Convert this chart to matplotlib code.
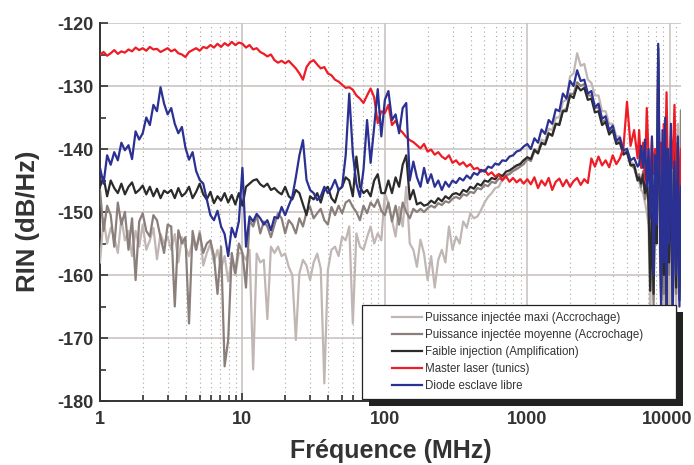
import matplotlib
matplotlib.use("Agg")
import matplotlib.pyplot as plt
import matplotlib.transforms as mtransforms
from matplotlib.patches import Rectangle
from matplotlib.ticker import FixedLocator, NullFormatter

# frequency grid (MHz): 40 points per decade up to ~6 GHz, then a finer tail
mant = [1.000, 1.059, 1.122, 1.189, 1.259, 1.334, 1.413, 1.496, 1.585, 1.679,
        1.778, 1.884, 1.995, 2.113, 2.239, 2.371, 2.512, 2.661, 2.818, 2.985,
        3.162, 3.350, 3.548, 3.758, 3.981, 4.217, 4.467, 4.732, 5.012, 5.309,
        5.623, 5.957, 6.310, 6.683, 7.079, 7.499, 7.943, 8.414, 8.913, 9.441]
freq_tail = [6100, 6300, 6500, 6700, 6900, 7100, 7300, 7500, 7700, 7900,
             8100, 8300, 8500, 8700, 8900, 9100, 9300, 9500, 9700, 9900,
             10200, 10500, 10800, 11100, 11400, 11700, 12000]
freq = [m * 10 ** d for d in range(4) for m in mant][:152] + freq_tail

# Puissance injectee maxi
maxi = [-158.0, -151.0, -155.0, -152.5, -154.0, -156.5, -151.0, -154.5, -153.0, -157.0,
        -153.0, -155.5, -152.0, -156.0, -154.5, -152.5, -157.5, -153.5, -155.0, -154.0,
        -156.0, -153.5, -158.0, -154.0, -155.5, -157.0, -154.5, -156.0, -153.0, -158.5,
        -156.5, -155.0, -158.0, -156.0, -159.0, -157.0, -161.0, -157.5, -160.0, -156.5,
        -156.6, -157.6, -156.0, -175.0, -156.6, -158.0, -157.6, -167.0, -155.5, -156.5,
        -155.5, -157.0, -156.6, -158.7, -160.0, -170.3, -159.7, -157.6, -158.5, -160.8,
        -158.0, -156.6, -159.0, -177.2, -159.2, -156.0, -155.5, -157.0, -153.9, -154.5,
        -152.3, -167.7, -153.4, -155.5, -156.0, -154.0, -152.3, -155.0, -153.4, -154.5,
        -147.0, -148.6, -151.3, -153.9, -149.2, -152.3, -146.0, -155.0, -156.0, -158.7,
        -154.4, -156.6, -160.8, -157.0, -162.0, -157.6, -156.0, -158.0, -152.3, -156.0,
        -153.9, -155.0, -151.5, -152.5, -150.2, -151.0, -150.7, -149.7, -148.5, -147.6,
        -147.0, -146.2, -146.0, -144.8, -144.4, -143.8, -143.3, -142.8, -142.3, -141.7,
        -141.5, -141.8, -140.0, -140.3, -138.5, -138.8, -136.8, -137.0, -135.0, -135.0,
        -132.5, -132.2, -128.5, -128.0, -124.8, -126.8, -126.5, -129.0, -129.5, -131.5,
        -131.5, -134.0, -134.0, -136.0, -136.0, -138.0, -138.0, -140.0, -140.0, -142.0,
        -142.5, -144.5,
        -145.0, -146.5, -147.0, -148.5, -150.0, -152.0, -166.0, -149.0, -164.0, -146.0,
        -150.0, -126.0, -155.0, -165.0, -143.0, -166.0, -141.0, -164.0, -145.0, -166.0,
        -139.0, -165.0, -143.0, -166.0, -136.0, -162.0, -133.8]

# Puissance injectee moyenne
moyenne = [-146.5, -153.0, -149.0, -150.5, -155.5, -148.5, -152.0, -150.0, -156.0, -151.0,
           -160.8, -151.5, -150.2, -153.0, -153.9, -150.5, -151.3, -154.0, -156.5, -152.0,
           -152.3, -165.0, -152.9, -155.0, -154.0, -167.7, -153.0, -156.0, -153.4, -156.5,
           -155.0, -154.5, -157.0, -163.0, -155.5, -174.5, -170.3, -156.5, -159.7, -155.0,
           -156.5, -162.0, -151.3, -152.3, -150.5, -153.4, -151.5, -152.3, -154.0, -152.0,
           -150.2, -151.0, -153.4, -151.3, -152.0, -153.4, -151.0, -152.3, -150.0, -149.2,
           -151.0, -150.2, -149.5, -151.3, -152.0, -149.2, -150.5, -149.0, -150.2, -148.5,
           -148.1, -149.2, -150.0, -151.3, -149.0, -150.2, -148.5, -149.2, -148.0, -149.8,
           -150.5, -148.5, -151.5, -149.0, -152.0, -148.5, -150.0, -151.0, -149.5, -150.0,
           -149.5, -150.0, -149.4, -149.0, -149.3, -148.6, -148.9, -148.3, -148.5, -147.9,
           -147.6, -147.9, -147.2, -147.4, -146.8, -147.0, -146.2, -146.4, -145.7, -145.9,
           -145.2, -145.4, -144.7, -144.8, -144.1, -144.0, -143.5, -143.2, -142.8, -142.4,
           -141.6, -141.9, -140.4, -140.6, -139.2, -139.2, -137.6, -137.8, -136.0, -136.0,
           -133.9, -133.6, -131.2, -131.3, -129.4, -130.0, -129.7, -131.5, -131.5, -133.5,
           -133.4, -135.7, -135.4, -137.3, -137.0, -139.0, -138.7, -140.5, -140.5, -142.5,
           -143.0, -145.0,
           -144.0, -146.0, -143.5, -148.0, -144.5, -150.0, -158.0, -146.0, -165.0, -144.0,
           -152.0, -125.5, -150.0, -162.0, -140.0, -163.0, -138.0, -165.0, -142.0, -160.0,
           -137.0, -165.0, -141.0, -163.0, -139.0, -160.0, -134.0]

# Faible injection
faible = [-146.0, -144.5, -147.5, -145.0, -146.2, -147.0, -145.5, -147.2, -146.0, -145.3,
          -147.0, -146.5, -145.8, -147.2, -146.0, -147.5, -146.3, -147.8, -146.6, -147.0,
          -146.5, -147.8, -146.2, -147.5, -147.0, -146.0, -147.8, -146.8, -145.5, -147.2,
          -148.0, -146.8, -148.6, -147.5, -148.2, -147.0, -148.5, -147.3, -148.8, -147.0,
          -149.0, -146.0, -145.5, -145.0, -144.8, -145.6, -146.0, -145.5, -146.5, -146.2,
          -146.8, -147.2, -146.0, -147.5, -148.0, -146.5, -147.0, -148.8, -150.5, -147.5,
          -148.0, -147.0, -148.5, -146.5, -146.0, -147.8, -148.5, -146.5, -146.0, -144.5,
          -145.0, -147.5, -141.2, -146.0, -147.0, -146.5, -147.5, -145.0, -144.0, -147.0,
          -147.0, -145.0, -147.0, -144.5, -146.0, -142.5, -141.0, -148.0, -146.5, -148.8,
          -148.5, -149.0, -148.8, -148.2, -148.6, -147.8, -148.3, -147.5, -147.9, -147.2,
          -147.0, -147.3, -146.5, -146.8, -146.0, -146.3, -145.5, -145.8, -145.0, -145.2,
          -144.6, -144.8, -144.0, -144.3, -143.6, -143.4, -143.0, -142.6, -142.4, -141.8,
          -141.3, -141.6, -140.1, -140.7, -139.0, -139.3, -137.5, -137.9, -136.0, -136.2,
          -134.0, -134.0, -131.5, -131.9, -130.0, -130.7, -130.3, -132.2, -132.0, -134.2,
          -134.0, -136.2, -135.7, -137.7, -137.0, -139.2, -139.0, -140.9, -140.5, -142.6,
          -142.5, -145.0,
          -144.5, -145.5, -144.0, -147.0, -145.5, -148.5, -162.5, -150.0, -163.0, -147.0,
          -155.0, -124.0, -148.0, -164.0, -142.0, -160.0, -145.0, -166.0, -140.0, -158.0,
          -143.0, -166.0, -139.0, -162.0, -141.0, -164.0, -145.0]

# Master laser (tunics)
master = [-125.0, -124.6, -125.2, -124.8, -124.3, -124.9, -124.5, -124.7, -124.2, -124.5,
          -123.9, -124.3, -124.0, -124.4, -123.8, -124.2, -124.1, -124.6, -124.3, -124.0,
          -124.5, -124.2, -124.8, -125.0, -125.4, -124.6, -124.3, -124.0, -124.4, -123.8,
          -124.0, -123.5, -123.9, -123.3, -123.8, -123.2, -123.6, -123.0, -123.5, -123.1,
          -123.3, -123.9, -123.5, -124.2, -124.0, -124.6, -124.9, -125.3, -125.0, -125.9,
          -126.3, -126.0, -126.4, -126.0, -126.6, -127.2, -128.0, -129.0, -127.0, -126.2,
          -125.9, -126.6, -127.2, -127.0, -128.0, -128.3, -129.0, -129.3, -129.8, -130.3,
          -130.2, -130.6, -131.5, -132.0, -132.7, -131.5, -130.4, -131.8, -135.9, -134.0,
          -134.3, -133.0, -136.2, -135.5, -136.8, -137.4, -138.1, -138.6, -138.9, -139.4,
          -139.9, -139.2, -140.4, -140.1, -140.9, -140.5, -141.2, -141.6, -141.0, -142.2,
          -141.8, -142.5, -142.1, -142.8, -142.4, -143.2, -143.0, -143.6, -143.3, -144.1,
          -143.7, -144.4, -144.0, -145.0, -144.3, -145.2, -144.6, -145.3, -144.8, -145.5,
          -144.8, -145.6, -144.5, -146.2, -145.0, -145.8, -144.6, -146.5, -145.2, -144.7,
          -145.9, -144.9, -146.0, -145.1, -144.6, -145.7, -144.8, -145.4, -141.5, -142.8,
          -141.2, -142.6, -141.8, -142.9, -141.0, -142.4, -141.5, -139.8, -132.5, -139.5,
          -137.0, -141.5,
          -137.0, -143.0, -139.0, -145.0, -133.5, -141.0, -146.0, -138.5, -144.0, -140.0,
          -146.5, -137.0, -143.0, -139.0, -147.0, -136.0, -142.0, -131.0, -144.0, -146.0,
          -138.0, -143.0, -133.0, -145.0, -139.0, -147.0, -140.0]

# Diode esclave libre
libre = [-143.0, -145.5, -141.0, -142.5, -140.5, -141.8, -139.0, -140.2, -139.4, -141.6,
         -137.2, -138.5, -137.5, -135.0, -136.2, -133.0, -134.0, -130.2, -132.8, -134.5,
         -133.5, -136.0, -137.5, -136.5, -139.8, -141.7, -140.5, -143.5, -144.9, -145.5,
         -148.0, -150.5, -151.3, -149.8, -152.3, -153.5, -157.0, -152.5, -154.0, -151.5,
         -143.0, -155.5, -150.7, -151.5, -150.3, -151.0, -152.0, -151.3, -152.9, -150.8,
         -151.0, -149.2, -150.5, -149.0, -147.6, -144.5, -141.0, -138.6, -144.9, -146.5,
         -147.0, -148.1, -147.5, -146.0, -147.0, -146.2, -144.9, -146.5, -146.0, -141.0,
         -131.2, -140.7, -145.5, -147.6, -143.3, -135.4, -142.2, -136.5, -130.5, -138.0,
         -132.2, -130.8, -135.4, -134.5, -137.5, -133.5, -132.7, -145.0, -142.0, -144.5,
         -146.0, -143.0, -145.4, -144.0, -146.0, -145.0, -146.5, -145.2, -146.0, -145.0,
         -145.4, -144.6, -145.0, -144.2, -144.7, -143.8, -144.1, -143.3, -143.6, -142.8,
         -143.0, -142.3, -142.5, -141.8, -141.9, -141.2, -141.0, -140.4, -140.2, -139.6,
         -139.2, -140.0, -138.3, -139.0, -136.9, -137.6, -135.4, -136.0, -133.7, -134.0,
         -131.2, -132.0, -129.2, -130.0, -127.5, -129.2, -129.0, -131.2, -130.8, -133.4,
         -132.8, -135.2, -134.8, -137.0, -136.3, -138.7, -138.2, -140.2, -140.0, -141.8,
         -141.4, -142.8,
         -142.5, -139.5, -143.0, -138.5, -146.0, -140.0, -151.0, -138.0, -160.0, -141.0,
         -152.0, -123.3, -145.0, -165.0, -137.0, -158.0, -135.0, -166.0, -140.0, -155.0,
         -136.0, -167.0, -142.0, -160.0, -138.0, -165.0, -146.0]

labels = ["Puissance injectée maxi (Accrochage)",
          "Puissance injectée moyenne (Accrochage)",
          "Faible injection (Amplification)",
          "Master laser (tunics)",
          "Diode esclave libre"]
colors = ["#c0b6b4", "#8b7f7c", "#2b2b2b", "#ee1c25", "#2b3192"]

plt.rcParams['font.family'] = ['Liberation Sans', 'DejaVu Sans']
plt.rcParams['axes.unicode_minus'] = False

fig = plt.figure(figsize=(6.94, 4.65), dpi=100)
ax = fig.add_axes([100 / 694, 1 - 401 / 465, 581 / 694, 378 / 465])

lines = []
for ys, c, lab in zip([maxi, moyenne, faible, master, libre], colors, labels):
    ln, = ax.plot(freq, ys, color=c, lw=1.6, label=lab, zorder=3)
    lines.append(ln)

ax.set_xscale('log')
ax.set_xlim(1, 12000)
ax.set_ylim(-180, -120)

ax.xaxis.set_major_locator(FixedLocator([1, 10, 100, 1000, 10000]))
ax.set_xticklabels(['1', '10', '100', '1000', '10000'])
minors = [m * 10 ** d for d in range(4) for m in range(2, 10)] + [11000]
ax.xaxis.set_minor_locator(FixedLocator(minors))
ax.xaxis.set_minor_formatter(NullFormatter())
ax.set_yticks(range(-180, -119, 10))
ax.set_yticks(range(-175, -120, 10), minor=True)

ax.grid(which='major', color='#cbc3c1', lw=1.2, zorder=1)
ax.grid(which='minor', axis='x', color='#a8a8a8', lw=0.8, linestyle=(0, (1, 3)), zorder=1)

for s in ['top', 'right']:
    ax.spines[s].set_visible(False)
for s in ['left', 'bottom']:
    ax.spines[s].set_color('#333333')
    ax.spines[s].set_linewidth(1.4)
ax.tick_params(which='both', direction='in', color='#333333', width=1.2)
ax.tick_params(which='major', length=6, labelsize=13, labelcolor='#333333')
ax.tick_params(axis='x', which='major', pad=7)
ax.tick_params(axis='y', which='major', pad=5)
ax.tick_params(which='minor', length=4)
for t in ax.get_xticklabels() + ax.get_yticklabels():
    t.set_fontweight('bold')
# nudge the last x label a bit left so it stays inside the figure
last = ax.get_xticklabels()[-1]
last.set_transform(last.get_transform()
                   + mtransforms.ScaledTranslation(-3 / 100, 0, fig.dpi_scale_trans))

ax.set_xlabel('Fréquence (MHz)', fontsize=18, fontweight='bold', color='#333333')
ax.set_ylabel('RIN (dB/Hz)', fontsize=18.5, fontweight='bold', color='#333333')
ax.xaxis.set_label_coords(0.501, -0.1)
ax.yaxis.set_label_coords(-0.104, 0.476)

# legend box with drop shadow (figure pixel coords)
def fx(px):
    return px / 694

def fy(py):
    return 1 - py / 465

shadow = Rectangle((fx(369), fy(406)), fx(314), 94 / 465, transform=fig.transFigure,
                   facecolor='#222222', edgecolor='none', zorder=10)
box = Rectangle((fx(362), fy(399)), fx(314), 94 / 465, transform=fig.transFigure,
                facecolor='white', edgecolor='#222222', lw=0.9, zorder=11)
fig.patches.extend([shadow, box])

leg = fig.legend(handles=lines, labels=labels, loc='upper left',
                 bbox_to_anchor=(fx(392), fy(312)), frameon=False, fontsize=8.3,
                 handlelength=2.6, handletextpad=0.26, labelspacing=0.44,
                 borderaxespad=0, borderpad=0)
leg.set_zorder(12)
for t in leg.get_texts():
    t.set_color('#333333')

fig.savefig('out.png', dpi=100)
